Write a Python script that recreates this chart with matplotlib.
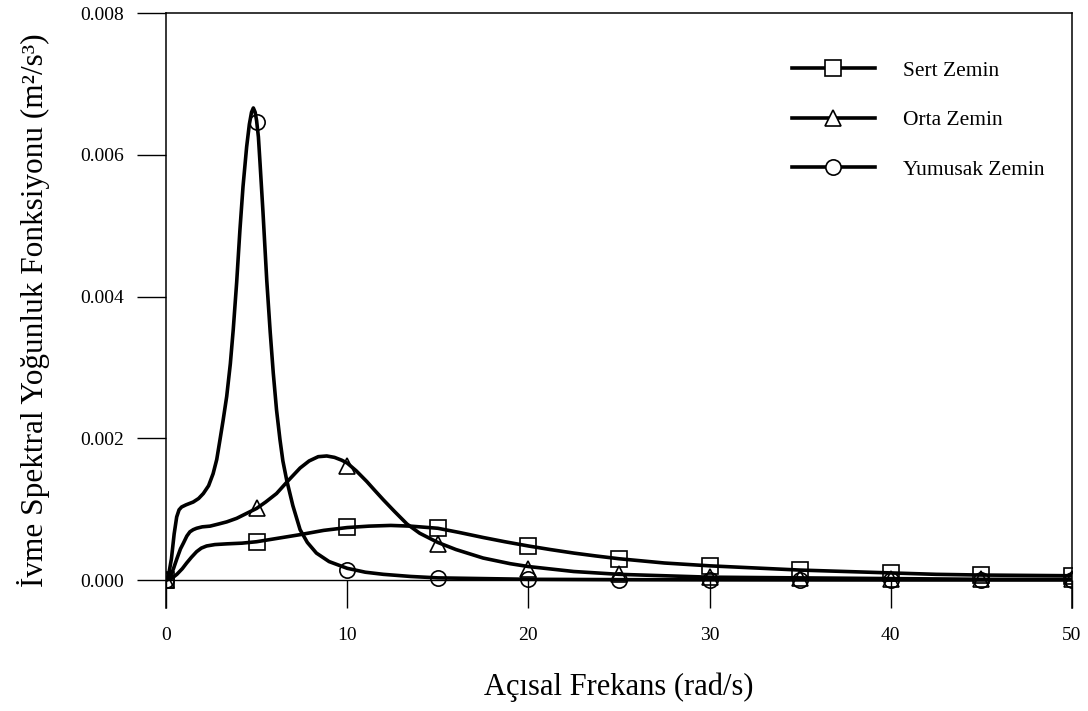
import matplotlib
matplotlib.use("Agg")
import matplotlib.pyplot as plt
from matplotlib.lines import Line2D

plt.rcParams['font.family'] = ['Liberation Serif', 'DejaVu Serif']

# curve points
w_sert = [0, 0.3, 0.6, 0.9, 1.14, 1.4, 1.69, 1.95, 2.24, 2.7, 3.35, 4.2, 5,
          6.2, 7.4, 8.7, 10, 11.2, 12.4, 13.5, 15, 16.2, 17.5, 18.7, 20, 21.2,
          22.5, 23.7, 25, 27.5, 30, 32.5, 35, 37.5, 40, 42.5, 45, 47.5, 50]
s_sert = [0, 0.00002, 0.00008, 0.00016, 0.00024, 0.00032, 0.00040, 0.00045,
          0.00048, 0.00050, 0.00051, 0.00052, 0.00054, 0.00059, 0.00064,
          0.00070, 0.00074, 0.00076, 0.00077, 0.00076, 0.00073, 0.00067,
          0.00060, 0.00054, 0.00048, 0.00043, 0.00038, 0.00034, 0.00030,
          0.00024, 0.00020, 0.00017, 0.00014, 0.00012, 0.00010, 0.00008,
          0.00007, 0.000065, 0.00006]

w_orta = [0, 0.2, 0.4, 0.6, 0.8, 0.96, 1.15, 1.32, 1.5, 1.69, 2.0, 2.43, 2.9,
          3.35, 3.9, 4.45, 5, 5.5, 6.1, 6.7, 7.4, 7.9, 8.4, 8.87, 9.3, 9.7, 10,
          10.5, 11.08, 11.5, 12, 12.6, 13.3, 14, 15, 16, 17.5, 19, 20, 22.5,
          25, 27.5, 30, 35, 40, 45, 50]
s_orta = [0, 0.00003, 0.00015, 0.00030, 0.00044, 0.00052, 0.00062, 0.00068,
          0.00071, 0.00073, 0.00075, 0.00076, 0.00079, 0.00082, 0.00087,
          0.00094, 0.00101, 0.00110, 0.00122, 0.00139, 0.00158, 0.00168,
          0.00174, 0.00175, 0.00173, 0.00169, 0.00165, 0.00154, 0.00139,
          0.00127, 0.00113, 0.00097, 0.00079, 0.00066, 0.00053, 0.00043,
          0.00031, 0.00023, 0.00019, 0.00012, 0.00008, 0.00006, 0.00004,
          0.00003, 0.00002, 0.00001, 0.00001]

w_yum = [0, 0.15, 0.3, 0.45, 0.59, 0.72, 0.86, 1.1, 1.5, 1.8, 2.06, 2.35, 2.6,
         2.8, 2.98, 3.15, 3.35, 3.55, 3.71, 3.9, 4.08, 4.25, 4.45, 4.6, 4.72,
         4.82, 4.92, 5.0, 5.1, 5.19, 5.35, 5.56, 5.75, 5.92, 6.1, 6.29, 6.45,
         6.66, 7.0, 7.4, 7.8, 8.3, 9.0, 10, 11, 12, 13.5, 15, 17.5, 20, 25,
         30, 35, 40, 45, 50]
s_yum = [0, 0.00008, 0.00030, 0.00065, 0.00089, 0.00099, 0.00103, 0.00106,
         0.00110, 0.00115, 0.00122, 0.00133, 0.00150, 0.00170, 0.00198,
         0.00225, 0.00259, 0.00305, 0.00353, 0.00420, 0.00494, 0.00555,
         0.00611, 0.00643, 0.00660, 0.00666, 0.00660, 0.00648, 0.00625,
         0.00588, 0.00520, 0.00423, 0.00350, 0.00292, 0.00240, 0.00198,
         0.00168, 0.00141, 0.00105, 0.00071, 0.00053, 0.00038, 0.00026,
         0.000165, 0.00011, 0.00008, 0.00005, 0.00003, 0.00002, 0.00001,
         0.000005, 0.000003, 0.000002, 0.000001, 0.000001, 0.000001]

# marker points (every 5 rad/s)
w_mark = [0, 5, 10, 15, 20, 25, 30, 35, 40, 45, 50]
m_sert = [0, 0.00054, 0.00075, 0.00073, 0.00048, 0.00030, 0.00020, 0.00014,
          0.00010, 0.00007, 0.00006]
m_orta = [0, 0.00101, 0.00161, 0.00051, 0.00016, 0.00008, 0.00004, 0.00003,
          0.00002, 0.00001, 0.00001]
m_yum = [0, 0.00646, 0.00014, 0.00003, 0.00001, 0.0, 0.0, 0.0, 0.0, 0.0, 0.0]

labels = ["Sert Zemin", "Orta Zemin", "Yumusak Zemin"]
markers = ["s", "^", "o"]

fig = plt.figure(figsize=(10.88, 7.11), dpi=100)
ax = fig.add_axes([166/1088, 1-608/711, (1072-166)/1088, (608-13)/711])

lw = 2.6
for w, s in [(w_sert, s_sert), (w_orta, s_orta), (w_yum, s_yum)]:
    ax.plot(w, s, color="black", lw=lw, solid_joinstyle="round", zorder=3)
for m, mk in zip([m_sert, m_orta, m_yum], markers):
    ax.plot(w_mark, m, ls="none", marker=mk, ms=11, mfc="none", mec="black",
            mew=1.2, zorder=4)

ax.axhline(0, color="black", lw=1, zorder=2)
ax.set_xlim(0, 50)
ax.set_ylim(-0.000395, 0.008)
ax.spines["bottom"].set_visible(False)
for sp in ["left", "right", "top"]:
    ax.spines[sp].set_linewidth(1.1)

ax.set_xticks([0, 10, 20, 30, 40, 50])
ax.set_yticks([0, 0.002, 0.004, 0.006, 0.008])
ax.set_yticklabels(["0.000", "0.002", "0.004", "0.006", "0.008"])
ax.tick_params(axis="x", direction="in", length=20, width=1, pad=14, labelsize=14)
ax.tick_params(axis="y", direction="out", length=21, width=1, pad=9, labelsize=14)

ax.set_xlabel("Açısal Frekans (rad/s)", fontsize=22, labelpad=20)
ax.set_ylabel("İvme Spektral Yoğunluk Fonksiyonu (m²/s³)", fontsize=22.5, labelpad=22)

handles = [Line2D([], [], color="black", lw=lw, marker=mk, ms=11, mfc="white",
                  mec="black", mew=1.2) for mk in markers]
ax.legend(handles, labels, loc="upper left", frameon=False, fontsize=15.5,
          bbox_to_anchor=(781/1088, 1-50/711), bbox_transform=fig.transFigure,
          handlelength=3.85, handletextpad=1.3, labelspacing=1.36, borderpad=0)

fig.savefig("out.png", dpi=100)
